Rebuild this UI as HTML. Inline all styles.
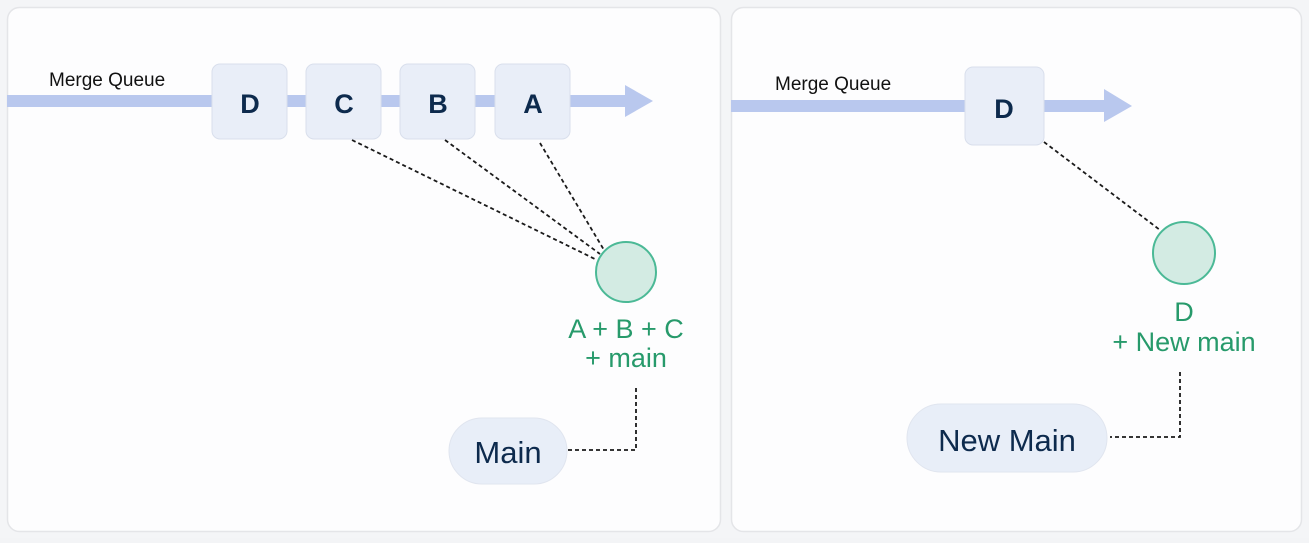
<!DOCTYPE html>
<html><head><style>
body{margin:0;width:1309px;height:538px;background:#f3f4f6;overflow:hidden;font-family:"Liberation Sans",sans-serif;}
</style></head><body>
<svg width="1309" height="538" xmlns="http://www.w3.org/2000/svg">
<rect x="0" y="0" width="1309" height="538" fill="#f4f5f7"/>
<rect x="7.5" y="7.5" width="713" height="524" rx="12" fill="#fdfdfe" stroke="#e4e5e8" stroke-width="1.5"/>
<rect x="731.5" y="7.5" width="570" height="524" rx="12" fill="#fdfdfe" stroke="#e4e5e8" stroke-width="1.5"/>
<g font-family="Liberation Sans, sans-serif">
<rect x="7" y="95" width="620" height="12" fill="#b9c8ee"/>
<polygon points="625,85 653,101 625,117" fill="#b9c8ee"/>
<text x="49" y="86" font-size="19" fill="#111">Merge Queue</text>
<g fill="#e9eef8" stroke="#d9dfec" stroke-width="1">
<rect x="212" y="64" width="75" height="75" rx="8"/>
<rect x="306" y="64" width="75" height="75" rx="8"/>
<rect x="400" y="64" width="75" height="75" rx="8"/>
<rect x="495" y="64" width="75" height="75" rx="8"/>
</g>
<g font-size="27" font-weight="bold" fill="#0d2a4d" text-anchor="middle">
<text x="250" y="113">D</text><text x="344" y="113">C</text><text x="438" y="113">B</text><text x="533" y="113">A</text>
</g>
<g stroke="#1a1a1a" stroke-width="1.8" stroke-dasharray="4,3" fill="none">
<line x1="352" y1="140" x2="597" y2="260"/>
<line x1="445" y1="140" x2="600" y2="254"/>
<line x1="540" y1="143" x2="604" y2="250"/>
<polyline points="636,388 636,450 568,450"/>
</g>
<circle cx="626" cy="272" r="30" fill="#d3ebe3" stroke="#4bb996" stroke-width="2"/>
<g font-size="27" font-weight="500" fill="#279a6b" text-anchor="middle">
<text x="626" y="338">A + B + C</text><text x="626" y="367">+ main</text>
</g>
<rect x="449" y="418" width="118" height="66" rx="33" fill="#e8eef8" stroke="#e0e5ef"/>
<text x="508" y="463" font-size="31" fill="#0d2a4d" text-anchor="middle">Main</text>
<rect x="731" y="100" width="376" height="12" fill="#b9c8ee"/>
<polygon points="1104,89 1132,106 1104,122" fill="#b9c8ee"/>
<text x="775" y="90" font-size="19" fill="#111">Merge Queue</text>
<rect x="965" y="67" width="79" height="78" rx="8" fill="#e9eef8" stroke="#d9dfec"/>
<text x="1004" y="118" font-size="27" font-weight="bold" fill="#0d2a4d" text-anchor="middle">D</text>
<g stroke="#1a1a1a" stroke-width="1.8" stroke-dasharray="4,3" fill="none">
<line x1="1044" y1="142" x2="1160" y2="230"/>
<polyline points="1180,372 1180,437 1110,437"/>
</g>
<circle cx="1184" cy="253" r="31" fill="#d3ebe3" stroke="#4bb996" stroke-width="2"/>
<g font-size="27" font-weight="500" fill="#279a6b" text-anchor="middle">
<text x="1184" y="321">D</text><text x="1184" y="351">+ New main</text>
</g>
<rect x="907" y="404" width="200" height="68" rx="34" fill="#e8eef8" stroke="#e0e5ef"/>
<text x="1007" y="451" font-size="31" fill="#0d2a4d" text-anchor="middle">New Main</text>
</g>
</svg>
</body></html>
